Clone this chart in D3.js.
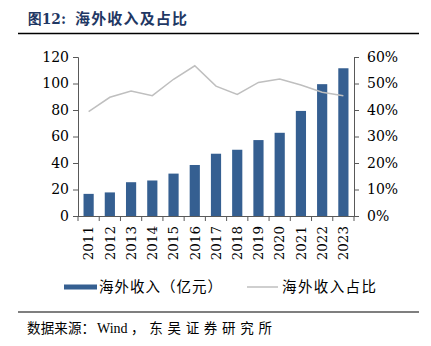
<!DOCTYPE html>
<html><head><meta charset="utf-8">
<script src="https://cdn.jsdelivr.net/npm/d3@7"></script>
<style>
html,body{margin:0;padding:0;background:#fff;}
svg{display:block;}
</style></head>
<body>
<svg id="c" width="431" height="346"></svg>
<script>
const years = ["2011","2012","2013","2014","2015","2016","2017","2018","2019","2020","2021","2022","2023"];
const revenue = [16.7, 17.8, 25.5, 26.8, 32, 38.5, 47, 50, 57.3, 62.8, 79.3, 99.5, 111.5];
const share = [39.4, 44.8, 47.2, 45.4, 51.6, 56.7, 49.0, 45.9, 50.4, 51.7, 49.4, 46.7, 45.4];
const leftTicks = [0,20,40,60,80,100,120];
const rightTicks = [0,10,20,30,40,50,60];
const titleNum = "图12:";
const titleText = "海外收入及占比";
const seriesNames = ["海外收入（亿元）","海外收入占比"];
const sourceParts = ["数据来源：", "Wind", "，东吴证券研究所"];

const svg = d3.select("#c");
const serif = "'DejaVu Serif', serif";
const cjk = "'Noto Sans CJK SC', sans-serif";
const axisColor = "#595959";
const barColor = "#355F91";
const lineColor = "#BFBFBF";

const L = 78, R = 354, T = 57, B = 216;
const x = d3.scaleBand().domain(years).range([L, R]).paddingInner(0.52).paddingOuter(0.26);
const yL = d3.scaleLinear().domain([0,120]).range([B, T]);
const yR = d3.scaleLinear().domain([0,60]).range([B, T]);

// title
svg.append("text").attr("x", 28).attr("y", 24).attr("fill", "#1F3864")
  .attr("font-weight", "bold").attr("font-size", 15).attr("font-family", serif)
  .attr("textLength", 38).attr("lengthAdjust", "spacingAndGlyphs").text(titleNum);
svg.append("text").attr("x", 75).attr("y", 24).attr("fill", "#1F3864")
  .attr("font-weight", "bold").attr("font-size", 15).attr("font-family", cjk)
  .attr("textLength", 112).attr("lengthAdjust", "spacing").text(titleText);
svg.append("line").attr("x1", 18).attr("x2", 419).attr("y1", 33.5).attr("y2", 33.5)
  .attr("stroke", "#000").attr("stroke-width", 1.5);

// bars
svg.append("g").selectAll("rect").data(years).join("rect")
  .attr("x", d => x(d)).attr("width", x.bandwidth())
  .attr("y", (d,i) => yL(revenue[i])).attr("height", (d,i) => B - yL(revenue[i]))
  .attr("fill", barColor);

// line
svg.append("path").datum(share)
  .attr("d", d3.line().x((d,i) => x(years[i]) + x.bandwidth()/2).y(d => yR(d)))
  .attr("fill", "none").attr("stroke", lineColor).attr("stroke-width", 1.5);

// left axis
const gl = svg.append("g").attr("transform", `translate(${L},0)`)
  .call(d3.axisLeft(yL).tickValues(leftTicks).tickSize(5).tickPadding(4));
// right axis
const gr = svg.append("g").attr("transform", `translate(${R},0)`)
  .call(d3.axisRight(yR).tickValues(rightTicks).tickSize(5).tickPadding(8).tickFormat(d => d + "%"));
[gl, gr].forEach(g => {
  g.select(".domain").attr("stroke", axisColor);
  g.selectAll(".tick line").attr("stroke", axisColor);
  g.selectAll("text").attr("font-family", serif).attr("font-size", 14).attr("fill", "#000");
});

// bottom axis
const gb = svg.append("g").attr("transform", `translate(0,${B})`)
  .call(d3.axisBottom(x).tickSize(0).tickPadding(0));
gb.select(".domain").attr("stroke", axisColor).attr("d", `M${L-1},0.5H${R}`);
gb.selectAll(".tick text").attr("font-family", serif).attr("font-size", 13.5).attr("fill", "#000")
  .attr("transform", "rotate(-90)").attr("text-anchor", "end").attr("dx", "-10").attr("dy", "0.35em").attr("y", 0);
const bounds = d3.range(years.length + 1).map(i => L + i * (R - L) / years.length);
gb.selectAll(".bt").data(bounds).join("line").attr("class", "bt")
  .attr("x1", d => d).attr("x2", d => d).attr("y1", 0).attr("y2", 5).attr("stroke", axisColor);

// legend
const ly = 287;
svg.append("rect").attr("x", 64).attr("y", ly - 2.5).attr("width", 33).attr("height", 5).attr("fill", barColor);
svg.append("text").attr("x", 99).attr("y", ly).attr("dy", "0.35em").attr("font-family", cjk)
  .attr("font-size", 14.5).attr("fill", "#000")
  .attr("textLength", 123).attr("lengthAdjust", "spacing").text(seriesNames[0]);
svg.append("line").attr("x1", 247).attr("x2", 278).attr("y1", ly).attr("y2", ly)
  .attr("stroke", lineColor).attr("stroke-width", 1.5);
svg.append("text").attr("x", 282).attr("y", ly).attr("dy", "0.35em").attr("font-family", cjk)
  .attr("font-size", 14.5).attr("fill", "#000")
  .attr("textLength", 94).attr("lengthAdjust", "spacing").text(seriesNames[1]);

// source
svg.append("line").attr("x1", 18).attr("x2", 419).attr("y1", 312).attr("y2", 312)
  .attr("stroke", "#000").attr("stroke-width", 1.2);
svg.append("text").attr("x", 27).attr("y", 333).attr("font-family", cjk)
  .attr("font-size", 13.5).attr("fill", "#000")
  .attr("textLength", 68).attr("lengthAdjust", "spacing").text(sourceParts[0]);
svg.append("text").attr("x", 97).attr("y", 333).attr("font-family", "'Liberation Serif', serif")
  .attr("font-size", 14).attr("fill", "#000").text(sourceParts[1]);
svg.append("text").attr("x", 131).attr("y", 333).attr("font-family", cjk)
  .attr("font-size", 13.5).attr("fill", "#000")
  .attr("textLength", 141).attr("lengthAdjust", "spacing").text(sourceParts[2]);
</script>
</body></html>
